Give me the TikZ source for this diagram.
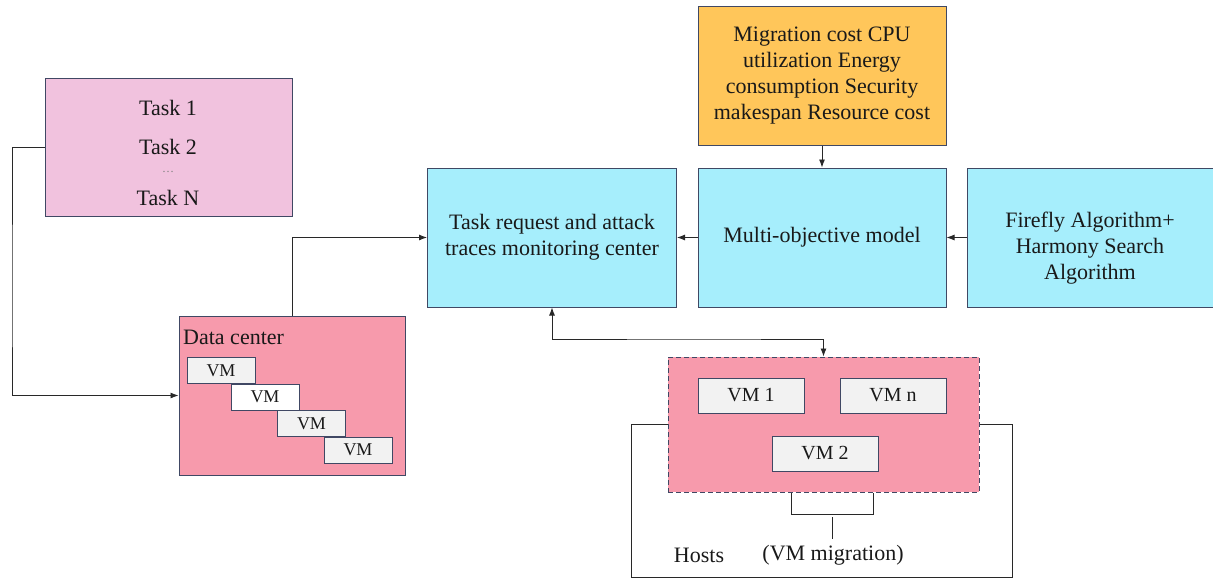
\documentclass[tikz,border=0pt]{standalone}
\usepackage{fontspec}
\setmainfont{Liberation Serif}
\usetikzlibrary{arrows.meta}
\definecolor{taskpink}{RGB}{241,194,222}
\definecolor{dcpink}{RGB}{247,154,172}
\definecolor{cyanbox}{RGB}{166,238,252}
\definecolor{orangebox}{RGB}{255,198,90}
\definecolor{vmgray}{RGB}{242,242,242}
\definecolor{bordercol}{RGB}{64,72,100}
\definecolor{linecol}{RGB}{40,40,40}
\definecolor{txtcol}{RGB}{25,25,25}
\begin{document}
\begin{tikzpicture}[x=1pt,y=-1pt,
  box/.style={draw=bordercol, line width=1pt, rectangle, inner sep=0pt, text=txtcol, align=center},
  big/.style={font=\fontsize{22}{26}\selectfont},
  vmsmall/.style={box, fill=vmgray, minimum width=68pt, minimum height=26pt, font=\fontsize{18}{20}\selectfont},
  vmbig/.style={box, fill=vmgray, minimum width=106pt, minimum height=35pt, font=\fontsize{20}{22}\selectfont},
  lbl/.style={text=txtcol, inner sep=0pt, align=center},
  conn/.style={draw=linecol, line width=0.9pt},
  arr/.style={conn, -{Latex[length=8pt,width=6pt]}},
  darr/.style={conn, {Latex[length=8pt,width=6pt]}-{Latex[length=8pt,width=6pt]}}
]
\useasboundingbox (0,0) rectangle (1213,578);

% Task box
\node[box, fill=taskpink, minimum width=247pt, minimum height=137pt] (task) at (168.5,147.5) {};
\node[lbl, big] (t1) at (168,108) {Task 1};
\node[lbl, big] (t2) at (168,147) {Task 2};
\node[lbl, text=gray, font=\fontsize{12}{14}\selectfont] (tdots) at (168,172) {\dots};
\node[lbl, big] (tn) at (168,198) {Task N};

% Data center
\node[box, fill=dcpink, minimum width=226pt, minimum height=159pt] (dc) at (292,395.5) {};
\node[lbl, big, anchor=west] (dclbl) at (183,337) {Data center};
\node[vmsmall] (vma) at (221,370.5) {VM};
\node[vmsmall, fill=white] (vmb) at (265,397) {VM};
\node[vmsmall] (vmc) at (311.5,423.5) {VM};
\node[vmsmall] (vmd) at (358,450) {VM};

% Top row
\node[box, big, fill=cyanbox, minimum width=249pt, minimum height=139pt] (treq) at (552,237.5) {Task request and attack\\traces monitoring center};
\node[box, big, fill=cyanbox, minimum width=248pt, minimum height=139pt] (multi) at (822,237.5) {Multi-objective model};
\node[box, fill=cyanbox, minimum width=249pt, minimum height=139pt] (fire) at (1091.5,237.5) {};
\node[lbl, big] (firetxt) at (1090,248) {Firefly Algorithm+\\Harmony Search\\Algorithm};
\node[box, big, fill=orangebox, minimum width=248pt, minimum height=138pt] (cost) at (822,76) {Migration cost CPU\\utilization Energy\\consumption Security\\makespan Resource cost};

% Hosts
\node[box, fill=dcpink, dash pattern=on 5pt off 3pt, minimum width=311pt, minimum height=135pt] (hosts) at (823.5,424.5) {};
\node[vmbig] (vm1) at (751,395.5) {VM 1};
\node[vmbig] (vmn) at (893,395.5) {VM n};
\node[vmbig] (vm2) at (825,453.5) {VM 2};
\node[lbl, big] (hostslbl) at (699,555) {Hosts};
\node[lbl, big] (miglbl) at (833,555) {(VM migration)};

% Coordinates
\coordinate (L) at (12,300);
\coordinate (J) at (700,339);
\coordinate (HL) at (631,577);
\coordinate (HR) at (1012,577);
\coordinate (b1) at (791,514);
\coordinate (b2) at (873,514);
\coordinate (m1) at (832,517);
\coordinate (m2) at (832,539);

% Connectors
\draw[arr] (task.west) -| (L) |- (dc.west);
\draw[arr] (dc.north) |- (treq.west);
\draw[arr] (multi.west) -- (treq.east);
\draw[arr] (fire.west) -- (multi.east);
\draw[arr] (cost.south) -- (multi.north);
\draw[darr] (treq.south) |- (J) -| (hosts.north);
\draw[conn] (hosts.west) -| (HL) -- (HR) |- (hosts.east);
\draw[conn] (b1 |- hosts.south) -- (b1) -- (b2) -- (b2 |- hosts.south);
\draw[conn] (m1) -- (m2);
\end{tikzpicture}
\end{document}
